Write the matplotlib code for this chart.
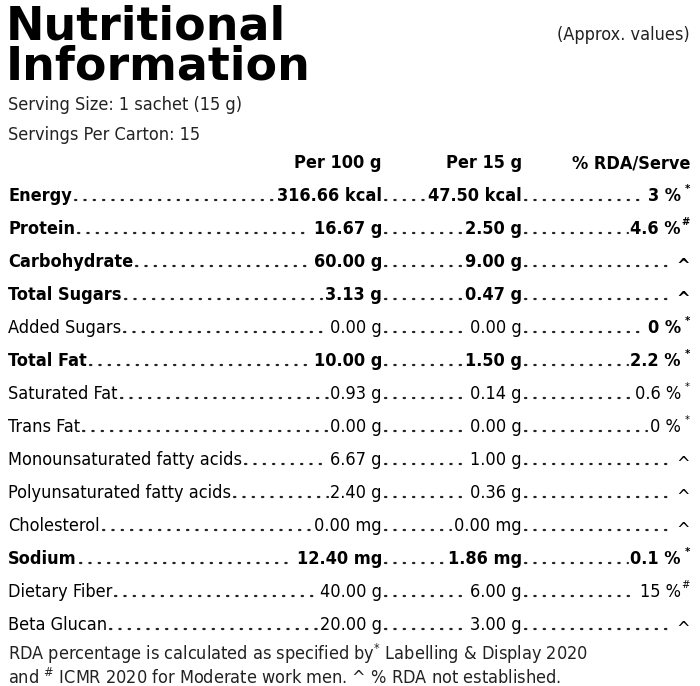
import matplotlib.pyplot as plt

plt.rcParams['font.family'] = ['DejaVu Sans']
plt.rcParams['font.stretch'] = 'condensed'

names = ['Energy', 'Protein', 'Carbohydrate', 'Total Sugars', 'Added Sugars', 'Total Fat',
         'Saturated Fat', 'Trans Fat', 'Monounsaturated fatty acids', 'Polyunsaturated fatty acids',
         'Cholesterol', 'Sodium', 'Dietary Fiber', 'Beta Glucan']
per100 = ['316.66 kcal', '16.67 g', '60.00 g', '3.13 g', '0.00 g', '10.00 g', '0.93 g', '0.00 g',
          '6.67 g', '2.40 g', '0.00 mg', '12.40 mg', '40.00 g', '20.00 g']
per15 = ['47.50 kcal', '2.50 g', '9.00 g', '0.47 g', '0.00 g', '1.50 g', '0.14 g', '0.00 g',
         '1.00 g', '0.36 g', '0.00 mg', '1.86 mg', '6.00 g', '3.00 g']
rda = ['3 %', '4.6 %', '^', '^', '0 %', '2.2 %', '0.6 %', '0 %', '^', '^', '^', '0.1 %', '15 %', '^']
rda_mark = ['*', '#', '', '', '*', '*', '*', '*', '', '', '', '*', '#', '']
bold_rows = [True, True, True, True, False, True, False, False, False, False, False, True, False, False]

W, H = 700, 686
fig = plt.figure(figsize=(W / 100, H / 100), dpi=100)
ax = fig.add_axes([0, 0, 1, 1])
ax.set_xlim(0, W)
ax.set_ylim(H, 0)
ax.axis('off')
r = fig.canvas.get_renderer()
inv = ax.transData.inverted()

def width(t):
    bb = t.get_window_extent(r)
    p0 = inv.transform((bb.x0, bb.y0))
    p1 = inv.transform((bb.x1, bb.y0))
    return p0[0], p1[0]

fs = 13
ax.text(6, 40, 'Nutritional', fontsize=33, fontweight='heavy', fontstretch='normal', va='baseline')
ax.text(6, 80, 'Information', fontsize=33, fontweight='heavy', fontstretch='normal', va='baseline')
ax.text(690, 40, '(Approx. values)', fontsize=fs, ha='right', va='baseline', color='#222')
ax.text(8, 110, 'Serving Size: 1 sachet (15 g)', fontsize=fs, va='baseline', color='#222')
ax.text(8, 140, 'Servings Per Carton: 15', fontsize=fs, va='baseline', color='#222')

c1, c2, c3 = 382, 522, 690
for x, h in zip([c1, c2, c3], ['Per 100 g', 'Per 15 g', '% RDA/Serve']):
    ax.text(x, 168, h, fontsize=fs, fontweight='bold', ha='right', va='baseline')

def leader(x0, x1, y):
    if x1 - x0 > 4:
        ax.plot([x0 + 3, x1 - 3], [y - 1, y - 1], color='#222', lw=1.6,
                linestyle=(0, (0.6, 3.6)), solid_capstyle='round', dash_capstyle='round')

for i, n in enumerate(names):
    y = 201 + i * 33
    wgt = 'bold' if bold_rows[i] else 'normal'
    t = ax.text(8, y, n, fontsize=fs, fontweight=wgt, va='baseline')
    _, e0 = width(t)
    t1 = ax.text(c1, y, per100[i], fontsize=fs, fontweight=wgt, ha='right', va='baseline')
    s1, _ = width(t1)
    leader(e0, s1, y)
    t2 = ax.text(c2, y, per15[i], fontsize=fs, fontweight=wgt, ha='right', va='baseline')
    s2, _ = width(t2)
    leader(c1, s2, y)
    rw = 'bold' if (bold_rows[i] or i == 4) else 'normal'
    if rda_mark[i]:
        ax.text(c3, y - 9, rda_mark[i], fontsize=8, fontweight=rw, ha='right', va='baseline')
        t3 = ax.text(c3 - 9, y, rda[i], fontsize=fs, fontweight=rw, ha='right', va='baseline')
    else:
        t3 = ax.text(c3, y + 4 if rda[i] == '^' else y, rda[i], fontsize=fs, fontweight=rw,
                     ha='right', va='baseline')
    s3, _ = width(t3)
    leader(c2, s3, y)

ax.text(8, 660, r'RDA percentage is calculated as specified by$^{*}$ Labelling & Display 2020',
        fontsize=fs, va='baseline', color='#222')
ax.text(8, 684, r'and $^{\#}$ ICMR 2020 for Moderate work men. ^ % RDA not established.',
        fontsize=fs, va='baseline', color='#222')

fig.savefig('out.png', dpi=100)
